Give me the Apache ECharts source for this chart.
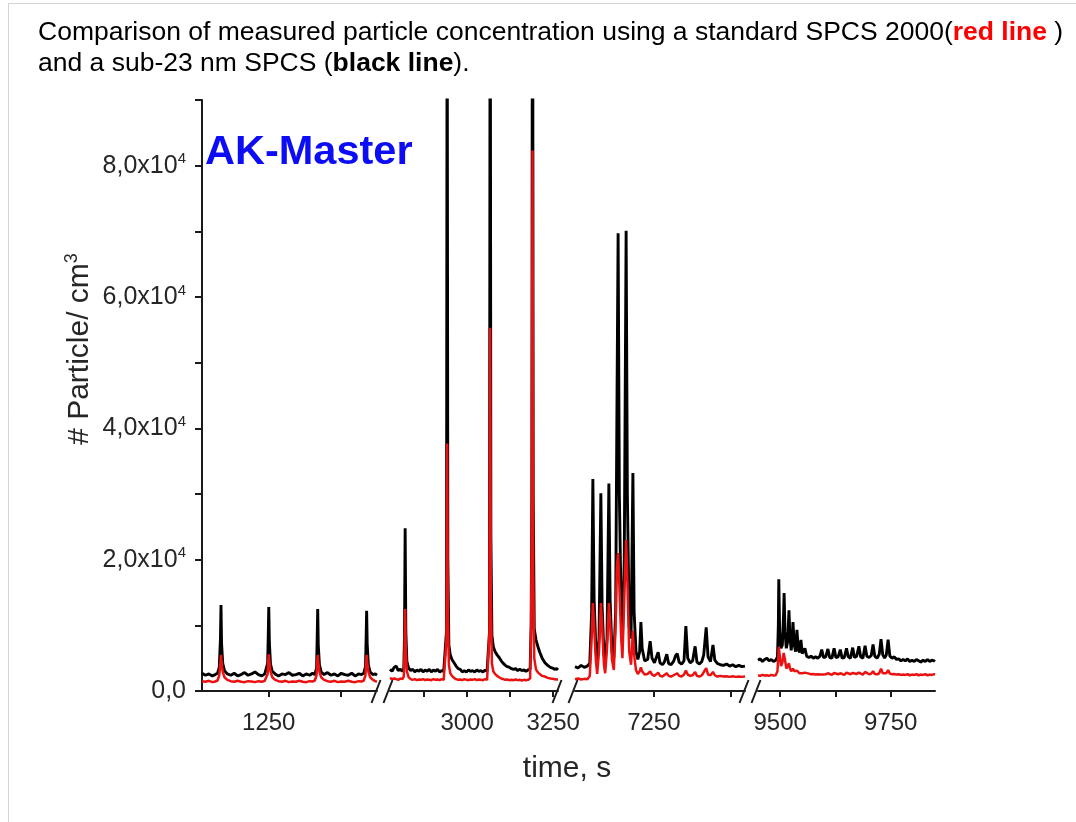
<!DOCTYPE html>
<html>
<head>
<meta charset="utf-8">
<script src="https://cdn.jsdelivr.net/npm/echarts@6/dist/echarts.min.js"></script>
<style>
  html, body { margin: 0; padding: 0; background: #fff; }
  #chart { width: 1076px; height: 822px; }
</style>
</head>
<body>
<div id="chart"></div>
<script>
// ---- measured time series, one block per time window ----
// window 1 (s)
const time1 = [1134,1140,1146,1152,1157,1161,1164,1166,1167,1168,1170,1173,1178,1184,1190,1196,1202,1208,1214,1220,1226,1232,1238,1243,1246,1248,1249,1250,1251,1253,1256,1261,1267,1273,1279,1285,1291,1297,1303,1309,1315,1321,1326,1330,1333,1334,1335,1336,1338,1341,1346,1352,1358,1364,1370,1376,1382,1388,1394,1400,1406,1411,1415,1418,1419,1420,1421,1423,1426,1431,1435,1438];
const sub23_1 = [2700,2400,2600,2300,2500,2700,3600,7800,13100,7200,4200,3100,2600,2400,2700,2300,2500,2800,2400,2600,2900,2500,2300,2600,2800,4200,8000,12800,7400,4100,3000,2600,2300,2600,2500,2800,2400,2500,2700,2300,2600,2400,2700,2500,3500,7600,12500,7000,4000,2900,2500,2800,2400,2600,2300,2700,2500,2400,2700,2300,2600,2500,2700,3700,7500,12200,7100,4000,2900,2500,2600,2400];
const spcs1 = [1500,1400,1550,1350,1450,1600,2400,4300,5500,4400,2900,2100,1700,1500,1400,1550,1400,1350,1500,1450,1350,1500,1400,1550,1700,2600,4500,5600,4500,3000,2100,1700,1500,1400,1550,1350,1450,1400,1550,1400,1350,1500,1450,1600,2400,4400,5500,4400,2900,2100,1700,1500,1400,1550,1350,1450,1400,1550,1400,1350,1500,1450,1600,2400,4400,5500,4400,2900,2100,1700,1500,1450];

// window 2 (s)
const time2 = [2776,2782,2788,2794,2800,2806,2812,2816,2818,2820,2822,2825,2830,2836,2842,2848,2854,2860,2866,2872,2878,2884,2890,2896,2902,2908,2914,2920,2926,2932,2937,2940,2942,2944,2947,2951,2956,2962,2968,2974,2980,2986,2992,2998,3004,3010,3016,3022,3028,3034,3040,3046,3052,3058,3062,3065,3067,3069,3072,3076,3081,3087,3093,3099,3105,3111,3117,3123,3129,3135,3141,3147,3153,3159,3165,3171,3177,3183,3186,3188,3190,3192,3195,3200,3206,3211,3218,3226,3234,3242,3248,3254,3260,3264];
const sub23_2 = [3300,3000,3600,3800,3100,3300,3000,3400,8000,24800,9000,4500,3500,3100,3300,2900,3200,3000,3300,2900,3200,3000,3300,2900,3200,3000,3300,2900,3100,3000,3200,9000,118000,20000,7000,5500,4800,4300,3800,3400,3300,2900,3100,2900,3200,3000,3100,2900,3200,3000,3100,2900,3200,3000,3200,9000,132000,24000,8500,6800,6000,5500,5100,4600,4200,3900,3700,3600,3400,3300,3400,3100,3300,3100,3200,3000,3200,3300,10000,30000,145000,30000,9500,7800,6700,5900,5000,4300,3900,3600,3500,3300,3400,3200];
const spcs2 = [2000,1800,1900,1800,1700,1900,1800,2200,5500,12500,6000,3000,2100,1800,1700,1800,1650,1750,1700,1800,1650,1750,1700,1650,1800,1700,1750,1650,1800,1700,1900,8000,37700,12000,4000,2700,2300,2000,1800,1700,1750,1650,1800,1700,1650,1750,1700,1800,1650,1750,1700,1650,1800,1700,1900,9000,55300,14000,4200,3000,2600,2300,2100,1900,1800,1700,1750,1650,1700,1650,1750,1650,1700,1600,1700,1650,1700,1900,10000,30000,82300,18000,5000,3300,2800,2500,2300,2200,2000,1900,1850,1800,1750,1800];

// window 3 (s)
const time3 = [7122,7127,7132,7137,7142,7146,7149,7151,7153,7156,7158,7161,7164,7166,7169,7171,7174,7177,7179,7182,7185,7188,7190,7192,7194,7197,7199,7202,7205,7207,7210,7213,7216,7218,7221,7224,7227,7229,7231,7235,7240,7244,7247,7251,7254,7257,7260,7264,7267,7271,7274,7278,7282,7285,7288,7291,7295,7299,7302,7305,7309,7313,7317,7320,7324,7328,7331,7335,7338,7342,7346,7349,7353,7358,7363,7368,7373,7378,7383,7388,7393,7398];
const sub23_3 = [3700,3500,3900,3600,3800,4200,12000,32300,14000,6000,4500,8000,30100,13000,5500,4500,8000,31600,14000,6000,5000,12000,41700,69700,30000,12000,8000,20000,70100,30000,10000,8000,33200,12000,6000,4800,6000,10500,6500,4600,4800,7600,5000,4300,4500,5900,4300,4000,4400,5600,4200,4000,4500,5300,5700,4400,4100,4600,9900,5000,4300,4600,6800,4400,4100,4500,5500,9700,5200,4500,7000,4700,4200,4000,3900,4100,3800,4000,3700,3900,3700,3800];
const spcs3 = [1800,1900,1750,1850,1800,2300,8000,13400,10000,4500,2600,6000,13400,10000,4000,2700,6500,13400,10500,4800,3200,10000,19000,21000,16000,8000,5000,14000,23000,17000,6000,4000,9200,5500,3200,2600,3000,3600,3000,2500,2600,3000,2500,2300,2400,2800,2300,2200,2300,2700,2300,2200,2400,2600,2700,2300,2200,2500,3100,2500,2300,2400,2900,2300,2200,2400,2700,3500,2500,2400,2900,2400,2200,2300,2200,2250,2150,2250,2150,2200,2150,2200];

// window 4 (s)
const time4 = [9450,9455,9460,9465,9470,9475,9480,9485,9490,9494,9496,9497,9499,9502,9505,9508,9509,9511,9514,9517,9520,9522,9525,9527,9529,9532,9535,9538,9541,9544,9547,9550,9553,9556,9560,9565,9570,9575,9580,9585,9590,9594,9598,9603,9608,9612,9617,9622,9626,9631,9636,9640,9645,9650,9654,9659,9664,9668,9673,9678,9682,9687,9692,9696,9701,9706,9710,9714,9719,9724,9728,9732,9736,9740,9744,9748,9753,9758,9763,9768,9773,9778,9783,9788,9793,9798,9803,9808,9813,9818,9823,9828,9833,9838,9843,9848,9850];
const sub23_4 = [4700,4900,4500,4800,5000,4600,4800,4500,4700,5200,10000,17000,9000,6500,7000,12000,14900,9000,6500,7500,12300,8500,6200,7500,10500,7000,6000,9300,6300,5900,7800,5700,5400,6500,5300,5100,5300,5000,5200,5000,5300,6300,5100,5200,6400,5100,5000,6500,5100,5200,6300,5000,5100,6500,5200,5000,6600,5100,5300,6800,5200,5000,6900,5300,5100,5400,7100,5300,5000,5600,7900,5500,5000,5500,7800,5300,5000,5200,4800,4900,4600,4800,4600,4900,4500,4700,4500,4800,4600,4400,4700,4500,4800,4500,4700,4600,4500];
const spcs4 = [2400,2300,2450,2350,2400,2300,2450,2350,2400,3000,5500,6700,5500,3800,4300,5800,5700,4800,3400,3600,4200,3500,3000,3200,3400,3000,2800,3100,2800,2700,3000,2700,2600,2800,2600,2650,2550,2600,2500,2550,2500,2700,2500,2550,2700,2500,2450,2750,2500,2550,2700,2500,2450,2800,2500,2550,2750,2500,2600,2800,2550,2500,2900,2600,2550,2650,3000,2600,2550,2700,3400,2700,2600,2700,3200,2650,2550,2600,2500,2550,2450,2500,2450,2550,2400,2500,2450,2550,2400,2500,2450,2550,2400,2500,2450,2550,2500];

// ---- axis extents and ticks ----
const xRanges = [[1134, 1438], [2776, 3264], [7122, 7398], [9450, 9850]];
const xTickValues = [[1250, 1375], [2875, 3000, 3125, 3250], [7250, 7375], [9500, 9625, 9750]];
const xLabelValues = [[1250], [3000, 3250], [7250], [9500, 9750]];
const yRange = [0, 90000];
const yTickValues = [0, 10000, 20000, 30000, 40000, 50000, 60000, 70000, 80000, 90000];
const yLabelValues = [0, 20000, 40000, 60000, 80000];

const windows = [
  { time: time1, sub23: sub23_1, spcs: spcs1 },
  { time: time2, sub23: sub23_2, spcs: spcs2 },
  { time: time3, sub23: sub23_3, spcs: spcs3 },
  { time: time4, sub23: sub23_4, spcs: spcs4 }
];

// ---- layout ----
const FONT = "'Liberation Sans', Arial, Helvetica, sans-serif";
const PLOT_TOP = 100, PLOT_H = 591;
const panels = [
  { left: 202, width: 175 },
  { left: 390, width: 168 },
  { left: 575, width: 170 },
  { left: 758, width: 177 }
];
const AXIS_COLOR = '#1a1a1a';
const TEXT_COLOR = '#262626';
const BLACK = '#000000';
const RED = '#ec1111';

const zip = (xs, ys) => xs.map((x, i) => [x, ys[i]]);

const grid = panels.map(p => ({ left: p.left, top: PLOT_TOP, width: p.width, height: PLOT_H }));

const xAxis = panels.map((p, i) => ({
  type: 'value',
  gridIndex: i,
  min: xRanges[i][0],
  max: xRanges[i][1],
  splitLine: { show: false },
  axisLine: { show: true, onZero: false, lineStyle: { color: AXIS_COLOR, width: 2 } },
  axisTick: { show: true, length: 6, customValues: xTickValues[i], lineStyle: { color: AXIS_COLOR, width: 2 } },
  axisLabel: {
    customValues: xLabelValues[i],
    margin: 20,
    fontSize: 24,
    fontFamily: FONT,
    color: TEXT_COLOR,
    formatter: v => String(v)
  }
}));

const yAxis = panels.map((p, i) => ({
  type: 'value',
  gridIndex: i,
  min: yRange[0],
  max: yRange[1],
  show: i === 0,
  splitLine: { show: false },
  axisLine: { show: true, lineStyle: { color: AXIS_COLOR, width: 2 } },
  axisTick: { show: true, length: 7, customValues: yTickValues, lineStyle: { color: AXIS_COLOR, width: 2 } },
  axisLabel: {
    customValues: yLabelValues,
    margin: 16,
    fontFamily: FONT,
    color: TEXT_COLOR,
    formatter: v => v === 0 ? '{m|0,0}' : '{m|' + (v / 1e4).toFixed(1).replace('.', ',') + 'x10}{s|4}',
    rich: {
      m: { fontSize: 25, fontFamily: FONT, color: TEXT_COLOR },
      s: { fontSize: 15, fontFamily: FONT, color: TEXT_COLOR, padding: [0, 0, 13, 0] }
    }
  }
}));

const series = [];
windows.forEach((w, i) => {
  series.push({
    name: 'sub-23 nm SPCS',
    type: 'line',
    xAxisIndex: i,
    yAxisIndex: i,
    data: zip(w.time, w.sub23),
    showSymbol: false,
    clip: true,
    lineStyle: { color: BLACK, width: 2.9 },
    z: 2
  });
  series.push({
    name: 'SPCS 2000',
    type: 'line',
    xAxisIndex: i,
    yAxisIndex: i,
    data: zip(w.time, w.spcs),
    showSymbol: false,
    clip: true,
    lineStyle: { color: RED, width: 2.5 },
    z: 3
  });
});

// double-slash break marks at the gaps between panels
const breakMarks = [];
const axisY = PLOT_TOP + PLOT_H;
for (let i = 0; i < panels.length - 1; i++) {
  const xr = panels[i].left + panels[i].width - 1;
  const xl = panels[i + 1].left - 2;
  [xr, xl].forEach(cx => {
    breakMarks.push({
      type: 'line',
      shape: { x1: cx - 4.5, y1: axisY + 12, x2: cx + 4.5, y2: axisY - 11 },
      style: { stroke: AXIS_COLOR, lineWidth: 2 },
      z: 10
    });
  });
}

const graphic = [
  {
    type: 'rect',
    shape: { x: 8.5, y: 3.5, width: 1200, height: 1000 },
    style: { fill: 'none', stroke: '#d4d4d4', lineWidth: 1 },
    silent: true,
    z: -1
  },
  {
    type: 'text',
    x: 38,
    y: 17,
    style: {
      text: 'Comparison of measured particle concentration using a standard SPCS 2000({r|red line} )\nand a sub-23 nm SPCS ({b|black line}).',
      font: '26.5px ' + FONT,
      fontSize: 26.5,
      fontFamily: FONT,
      fill: '#000',
      lineHeight: 31,
      rich: {
        r: { fontSize: 26.5, fontFamily: FONT, fontWeight: 'bold', fill: '#ff0000', color: '#ff0000', lineHeight: 31 },
        b: { fontSize: 26.5, fontFamily: FONT, fontWeight: 'bold', fill: '#000', color: '#000', lineHeight: 31 }
      }
    }
  },
  {
    type: 'text',
    x: 205,
    y: 153,
    style: {
      text: 'AK-Master',
      fontSize: 41.5,
      fontWeight: 'bold',
      fontFamily: FONT,
      fill: '#0c0cf5',
      verticalAlign: 'middle',
      align: 'left'
    },
    z: 20
  },
  {
    type: 'text',
    x: 80,
    y: 349,
    rotation: Math.PI / 2,
    style: {
      text: '{a|# Particle/ cm}{s|3}',
      align: 'center',
      verticalAlign: 'middle',
      rich: {
        a: { fontSize: 30, fontFamily: FONT, fill: TEXT_COLOR, color: TEXT_COLOR },
        s: { fontSize: 18, fontFamily: FONT, fill: TEXT_COLOR, color: TEXT_COLOR, padding: [0, 0, 16, 0] }
      }
    }
  },
  {
    type: 'text',
    x: 567,
    y: 769,
    style: {
      text: 'time, s',
      fontSize: 30,
      fontFamily: FONT,
      fill: TEXT_COLOR,
      align: 'center',
      verticalAlign: 'middle'
    }
  }
].concat(breakMarks);

const chart = echarts.init(document.getElementById('chart'), null, { renderer: 'canvas' });
chart.setOption({
  animation: false,
  backgroundColor: '#ffffff',
  grid,
  xAxis,
  yAxis,
  series,
  graphic
});
</script>
</body>
</html>
